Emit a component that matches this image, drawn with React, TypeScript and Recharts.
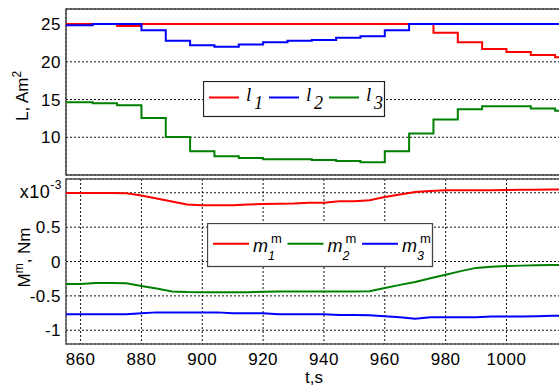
import React from 'react';
import { LineChart, Line, XAxis, YAxis, CartesianGrid, ReferenceArea, Legend } from 'recharts';

const SANS = '"Liberation Sans", Arial, Helvetica, sans-serif';
const SERIF = '"Liberation Serif", "Times New Roman", serif';

// ---- top panel (L, Am^2), step series ----
const tTop = [855, 864, 872, 880, 888, 896, 904, 912, 920, 928, 936, 944, 952, 960, 968, 976, 984, 992, 1000, 1008, 1016, 1018];
const l1 = [25, 25, 24.75, 25, 25, 25, 25, 25, 25, 25, 25, 25, 25, 25, 25, 23.85, 22.6, 21.7, 21.3, 20.9, 20.6, 20.6];
const l2 = [24.85, 25, 25, 24.2, 22.8, 22.2, 22.0, 22.3, 22.6, 22.8, 22.9, 23.2, 23.4, 24.2, 25, 25, 25, 25, 25, 25, 25, 25];
const l3 = [14.65, 14.5, 14.25, 12.55, 10.05, 8.15, 7.5, 7.25, 7.1, 7.1, 7.0, 6.85, 6.7, 8.15, 10.5, 12.35, 13.7, 14.1, 14.1, 13.8, 13.5, 13.5];

// ---- bottom panel (M^m, Nm x1e-3) ----
const tBottom = [855, 860, 865, 870, 875, 880, 885, 890, 895, 900, 905, 910, 915, 920, 925, 930, 935, 940, 945, 950, 955, 960, 965, 970, 975, 980, 985, 990, 995, 1000, 1005, 1010, 1015, 1018];
const m1 = [0.995, 0.995, 0.995, 0.995, 0.993, 0.96, 0.915, 0.872, 0.83, 0.82, 0.82, 0.82, 0.83, 0.835, 0.84, 0.845, 0.856, 0.856, 0.875, 0.875, 0.89, 0.937, 0.975, 1.01, 1.025, 1.035, 1.035, 1.035, 1.035, 1.04, 1.045, 1.045, 1.048, 1.048];
const m2 = [-0.326, -0.326, -0.311, -0.311, -0.318, -0.355, -0.393, -0.435, -0.443, -0.446, -0.446, -0.446, -0.446, -0.44, -0.437, -0.437, -0.437, -0.437, -0.437, -0.437, -0.432, -0.385, -0.34, -0.298, -0.245, -0.192, -0.14, -0.093, -0.075, -0.066, -0.06, -0.055, -0.05, -0.05];
const m3 = [-0.768, -0.768, -0.768, -0.768, -0.768, -0.754, -0.74, -0.74, -0.74, -0.74, -0.74, -0.754, -0.754, -0.754, -0.768, -0.768, -0.768, -0.768, -0.778, -0.778, -0.782, -0.795, -0.81, -0.834, -0.81, -0.81, -0.81, -0.81, -0.8, -0.8, -0.8, -0.795, -0.79, -0.79];

const xTicks = [860, 880, 900, 920, 940, 960, 980, 1000];
const topYTicks = [10, 15, 20, 25];
const bottomYTicks = [-1, -0.5, 0, 0.5, 1];
const xDomain: [number, number] = [855.2, 1017.6];
const topYDomain: [number, number] = [5, 27];
const bottomYDomain: [number, number] = [-1.2, 1.2];

const topSeries = [
  { key: 'l1', base: 'l', sub: '1', color: '#ff0000' },
  { key: 'l2', base: 'l', sub: '2', color: '#0000ff' },
  { key: 'l3', base: 'l', sub: '3', color: '#008000' },
];
const bottomSeries = [
  { key: 'm1', base: 'm', sub: '1', color: '#ff0000' },
  { key: 'm2', base: 'm', sub: '2', color: '#008000' },
  { key: 'm3', base: 'm', sub: '3', color: '#0000ff' },
];

const topData = tTop.map((t, i) => ({ t, l1: l1[i], l2: l2[i], l3: l3[i] }));
const bottomData = tBottom.map((t, i) => ({ t, m1: m1[i], m2: m2[i], m3: m3[i] }));

const XTick = (props: any) => {
  const { x, y, payload } = props;
  return (
    <text x={x} y={y + 21} textAnchor="middle" fontFamily={SANS} fontSize={17} letterSpacing={0.5} fill="#000">
      {payload.value}
    </text>
  );
};

const TopYTick = (props: any) => {
  const { x, y, payload } = props;
  return (
    <text x={x - 5} y={y + 6} textAnchor="end" fontFamily={SANS} fontSize={17} letterSpacing={0.5} fill="#000">
      {payload.value}
    </text>
  );
};

const BottomYTick = (props: any) => {
  const { x, y, payload } = props;
  const v = payload.value;
  if (v === 1) {
    return (
      <text x={x - 4} y={y + 5} textAnchor="end" fontFamily={SANS} fontSize={18} letterSpacing={0.5} fill="#000">
        x10<tspan dy={-9} fontSize={12}>-3</tspan>
      </text>
    );
  }
  return (
    <text x={x - 5} y={y + 6} textAnchor="end" fontFamily={SANS} fontSize={17} letterSpacing={0.5} fill="#000">
      {String(v)}
    </text>
  );
};

const TopYLabel = (props: any) => {
  const vb = props.viewBox || { y: 9, height: 166 };
  const cx = 28;
  const cy = vb.y + vb.height / 2 + 4;
  return (
    <text transform={`rotate(-90 ${cx} ${cy})`} x={cx} y={cy} textAnchor="middle" fontFamily={SANS} fontSize={17} fill="#000">
      L, Am<tspan dy={-7} fontSize={12}>2</tspan>
    </text>
  );
};

const BottomYLabel = (props: any) => {
  const vb = props.viewBox || { y: 179, height: 165 };
  const cx = 30;
  const cy = vb.y + vb.height / 2 - 4;
  return (
    <text transform={`rotate(-90 ${cx} ${cy})`} x={cx} y={cy} textAnchor="middle" fontFamily={SANS} fontSize={17} fill="#000">
      M<tspan dy={-7} fontSize={12}>m</tspan>
      <tspan dy={7} fontSize={17}>, Nm</tspan>
    </text>
  );
};

const XLabel = (props: any) => {
  const vb = props.viewBox || { x: 66, width: 494, y: 344 };
  const cx = vb.x + vb.width / 2 + 1;
  return (
    <text x={cx} y={383} textAnchor="middle" fontFamily={SANS} fontSize={17} fill="#000">
      t,s
    </text>
  );
};

const TopLegend = (props: any) => {
  const payload = props.payload || [];
  return (
    <svg width={183} height={37} style={{ display: 'block' }}>
      <rect x={0.5} y={0.5} width={181} height={35} fill="#fff" stroke="#222" strokeWidth={1.2} />
      {payload.map((p: any, i: number) => {
        const s = topSeries.find((q) => q.key === p.dataKey || q.key === p.value) || topSeries[i];
        const x0 = 6 + i * 60;
        return (
          <g key={i}>
            <line x1={x0} x2={x0 + 30} y1={16.5} y2={16.5} stroke={p.color} strokeWidth={2} />
            <text x={x0 + 37} y={19.5} fontFamily={SERIF} fontStyle="italic" fontSize={19} fill="#000">
              {s.base}
            </text>
            <text x={x0 + 45} y={27.5} fontFamily={SERIF} fontStyle="italic" fontSize={18} fill="#000">
              {s.sub}
            </text>
          </g>
        );
      })}
    </svg>
  );
};

const BottomLegend = (props: any) => {
  const payload = props.payload || [];
  return (
    <svg width={227} height={45} style={{ display: 'block' }}>
      <rect x={0.5} y={0.5} width={225} height={43} fill="#fff" stroke="#444" strokeWidth={1.3} />
      {payload.map((p: any, i: number) => {
        const s = bottomSeries.find((q) => q.key === p.dataKey || q.key === p.value) || bottomSeries[i];
        const x0 = 6 + i * 74.5;
        return (
          <g key={i}>
            <line x1={x0} x2={x0 + 36} y1={20.7} y2={20.7} stroke={p.color} strokeWidth={2} />
            <text x={x0 + 40} y={29.3} fontFamily={SANS} fontStyle="italic" fontSize={18} fill="#000">
              {s.base}
            </text>
            <text x={x0 + 58} y={20} fontFamily={SANS} fontSize={13} fill="#000">
              m
            </text>
            <text x={x0 + 55} y={37.3} fontFamily={SANS} fontStyle="italic" fontSize={12.5} fill="#000">
              {s.sub}
            </text>
          </g>
        );
      })}
    </svg>
  );
};

export default function App() {
  return (
    <div style={{ position: 'fixed', left: 0, top: 0, width: 559, height: 390, overflow: 'hidden', background: '#fff' }}>
      <div style={{ position: 'absolute', left: 0, top: 0 }}>
        <LineChart width={562} height={390} data={bottomData} margin={{ top: 179, right: 2, bottom: 0, left: 0 }}>
          <CartesianGrid stroke="#111" strokeDasharray="2 2" strokeWidth={1} />
          <XAxis
            dataKey="t"
            type="number"
            domain={xDomain}
            ticks={xTicks}
            allowDataOverflow
            height={46}
            tickLine={false}
            axisLine={false}
            tickSize={0}
            tickMargin={0}
            tick={<XTick />}
            label={<XLabel />}
          />
          <YAxis
            type="number"
            domain={bottomYDomain}
            ticks={bottomYTicks}
            allowDataOverflow
            width={66}
            tickLine={false}
            axisLine={false}
            tickSize={0}
            tickMargin={0}
            tick={<BottomYTick />}
            label={<BottomYLabel />}
          />
          <ReferenceArea x1={xDomain[0]} x2={xDomain[1]} y1={bottomYDomain[0]} y2={bottomYDomain[1]} fill="none" stroke="#555" strokeWidth={1.5} ifOverflow="visible" />
          {bottomSeries.map((s) => (
            <Line key={s.key} dataKey={s.key} name={s.key} type="linear" stroke={s.color} strokeWidth={2} dot={false} isAnimationActive={false} />
          ))}
          <Legend
            layout="horizontal"
            verticalAlign="middle"
            align="center"
            content={<BottomLegend />}
            wrapperStyle={{ left: 207, top: 223, width: 'auto', height: 'auto' }}
          />
        </LineChart>
      </div>
      <div style={{ position: 'absolute', left: 0, top: 0 }}>
        <LineChart width={562} height={176} data={topData} margin={{ top: 9, right: 2, bottom: 0, left: 0 }}>
          <CartesianGrid stroke="#111" strokeDasharray="2 2" strokeWidth={1} />
          <XAxis
            dataKey="t"
            type="number"
            domain={xDomain}
            ticks={xTicks}
            allowDataOverflow
            height={1}
            tick={false}
            tickLine={false}
            axisLine={false}
          />
          <YAxis
            type="number"
            domain={topYDomain}
            ticks={topYTicks}
            allowDataOverflow
            width={66}
            tickLine={false}
            axisLine={false}
            tickSize={0}
            tickMargin={0}
            tick={<TopYTick />}
            label={<TopYLabel />}
          />
          <ReferenceArea x1={xDomain[0]} x2={xDomain[1]} y1={topYDomain[0]} y2={topYDomain[1]} fill="none" stroke="#444" strokeWidth={1.5} ifOverflow="visible" />
          {topSeries.map((s) => (
            <Line key={s.key} dataKey={s.key} name={s.key} type="stepAfter" stroke={s.color} strokeWidth={2} dot={false} isAnimationActive={false} />
          ))}
          <Legend
            layout="horizontal"
            verticalAlign="middle"
            align="center"
            content={<TopLegend />}
            wrapperStyle={{ left: 203, top: 81, width: 'auto', height: 'auto' }}
          />
        </LineChart>
      </div>
    </div>
  );
}
